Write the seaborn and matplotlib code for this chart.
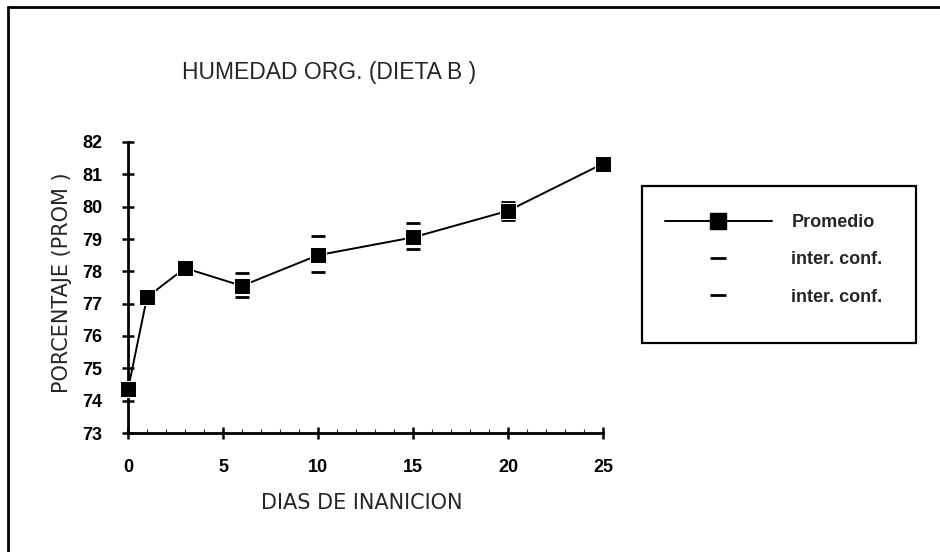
import numpy as np
import pandas as pd
import matplotlib
matplotlib.use("Agg")
import matplotlib.pyplot as plt
from matplotlib.lines import Line2D
from matplotlib.patches import Rectangle
import seaborn as sns

# --- Datos ---
dias = [0, 1, 3, 6, 10, 15, 20, 25]
promedio = [74.35, 77.2, 78.1, 77.55, 78.5, 79.05, 79.87, 81.33]
ic_sup = [74.55, 77.35, 78.2, 77.95, 79.1, 79.5, 80.15, 81.45]
ic_inf = [74.15, 77.05, 78.0, 77.2, 77.98, 78.7, 79.6, 81.2]

titulo = "HUMEDAD ORG. (DIETA B )"
etiqueta_x = "DIAS DE INANICION"
etiqueta_y = "PORCENTAJE (PROM )"

df = pd.DataFrame({"dias": dias, "promedio": promedio, "sup": ic_sup, "inf": ic_inf})

sns.set_style("white")
plt.rcParams['font.family'] = ['Liberation Sans', 'DejaVu Sans']

fig = plt.figure(figsize=(9.4, 5.52), dpi=100)
ax = fig.add_axes([128 / 940, 1 - 433 / 552, 475 / 940, 291 / 552])

# intervalos de confianza (rayas horizontales)
sns.scatterplot(data=df, x="dias", y="sup", marker="_", s=110, color="black",
                linewidth=2, ax=ax, zorder=2, legend=False, clip_on=False)
sns.scatterplot(data=df, x="dias", y="inf", marker="_", s=110, color="black",
                linewidth=2, ax=ax, zorder=2, legend=False, clip_on=False)
# promedio
sns.lineplot(data=df, x="dias", y="promedio", marker="s", markersize=11.5,
             color="black", linewidth=1.4, ax=ax, zorder=3, legend=False, clip_on=False)

ax.set_xlim(0, 25)
ax.set_ylim(73, 82)
ax.set_xticks([0, 5, 10, 15, 20, 25])
ax.set_yticks(range(73, 83))
ax.set_xticks(range(0, 26), minor=True)
ax.tick_params(axis="both", which="major", direction="inout", length=9, width=1.8,
               labelsize=13, colors="black", left=True, bottom=True)
ax.tick_params(axis="x", which="major", pad=14)
ax.tick_params(axis="y", which="major", pad=14)
ax.tick_params(axis="x", which="minor", direction="in", length=3, width=0.8, bottom=True)
for lab in ax.get_xticklabels() + ax.get_yticklabels():
    lab.set_fontweight("bold")

for s in ["top", "right"]:
    ax.spines[s].set_visible(False)
for s in ["left", "bottom"]:
    ax.spines[s].set_linewidth(2)
    ax.spines[s].set_color("black")

ax.set_xlabel("")
ax.set_ylabel("")
fig.text(182 / 940, 1 - 72 / 552, titulo, fontsize=16.5, va="center", ha="left")
fig.text(362 / 940, 1 - 503 / 552, etiqueta_x, fontsize=15, va="center", ha="center",
         family="DejaVu Sans")
fig.text(62 / 940, 1 - 283 / 552, etiqueta_y, fontsize=15, va="center", ha="center",
         rotation=90, family="DejaVu Sans")

# leyenda
handles = [
    Line2D([], [], color="black", marker="s", markersize=11.5, linewidth=1.4),
    Line2D([], [], color="black", marker="_", markersize=11, markeredgewidth=2, linestyle="none"),
    Line2D([], [], color="black", marker="_", markersize=11, markeredgewidth=2, linestyle="none"),
]
leg = fig.legend(handles, ["Promedio", "inter. conf.", "inter. conf."],
                 loc="upper left", bbox_to_anchor=(665 / 940, 1 - 214 / 552),
                 prop={"size": 13, "weight": "bold"}, handlelength=5.9, labelspacing=1.13,
                 borderpad=0, handletextpad=1.1, frameon=False, borderaxespad=0)
fig.add_artist(Rectangle((642 / 940, 1 - 343 / 552), 274 / 940, 157 / 552,
                         transform=fig.transFigure, fill=False, edgecolor="black",
                         linewidth=1.6))

# marco de la figura
fig.add_artist(Line2D([8 / 940, 8 / 940], [0, 1 - 7 / 552], transform=fig.transFigure,
                      color="black", linewidth=2))
fig.add_artist(Line2D([8 / 940, 1], [1 - 7 / 552, 1 - 7 / 552], transform=fig.transFigure,
                      color="black", linewidth=2))

fig.savefig("out.png", dpi=100)
